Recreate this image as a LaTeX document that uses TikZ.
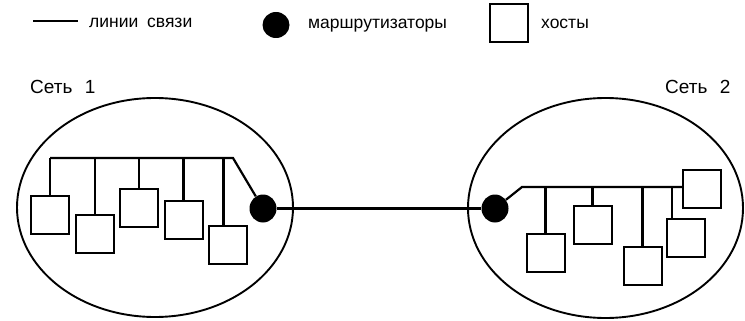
\documentclass[tikz,border=0pt]{standalone}
\usepackage{fontspec}
\setmainfont{Liberation Sans}
\usetikzlibrary{shapes.geometric}
\begin{document}
\begin{tikzpicture}[x=1pt,y=-1pt,
  wire/.style={line width=2.2pt},
  netline/.style={line width=1.9pt},
  host/.style={draw,line width=2pt,minimum width=38pt,minimum height=38pt,inner sep=0pt},
  router/.style={ellipse,fill=black,minimum width=27pt,minimum height=28pt,inner sep=0pt},
  lbl/.style={inner sep=0pt,anchor=base west,font=\fontsize{17.5}{21}\selectfont},
  title/.style={inner sep=0pt,anchor=base west,font=\fontsize{19}{22}\selectfont}]
\useasboundingbox (0,0) rectangle (745,321);

% legend
\coordinate (legA) at (33,21);
\coordinate (legB) at (78,21);
\draw[wire] (legA) -- (legB);
\node[lbl] (legLinks) at (89,28) {линии\hspace{0.5em}связи};
\node[router,minimum width=27pt,minimum height=26pt] (legRouter) at (276,25) {};
\node[lbl] (legRouters) at (308,29) {маршрутизаторы};
\node[host] (legHost) at (509,23.5) {};
\node[lbl] (legHosts) at (541,29) {хосты};

% network outlines and titles
\node[title] (titleA) at (30,93) {Сеть\hspace{0.65em}1};
\node[title] (titleB) at (665,93) {Сеть\hspace{0.65em}2};
\node[ellipse,draw,netline,minimum width=276pt,minimum height=219pt,inner sep=0pt] (netA) at (155,207.5) {};
\node[ellipse,draw,netline,minimum width=275pt,minimum height=220pt,inner sep=0pt] (netB) at (605.5,208) {};

% routers and the link between them
\node[router] (rA) at (263,208.5) {};
\node[router] (rB) at (495,208.5) {};
\draw[wire] (rA) -- (rB);

% hosts of network 1
\node[host] (a1) at (50,214.5) {};
\node[host] (a2) at (95,233.5) {};
\node[host] (a3) at (139,208) {};
\node[host] (a4) at (183.5,219.5) {};
\node[host] (a5) at (227.5,245) {};

% bus of network 1
\coordinate (busA0) at (50,158);
\coordinate (busA1) at (233,158);
\draw[wire,line join=miter] (busA0) -- (busA1) -- (rA);
\foreach \h in {a1,a2,a3,a4} \draw[wire] (\h.north) -- (\h.north |- busA0);
\draw[wire] ([xshift=-4pt]a5.north) -- ([xshift=-4pt]a5.north |- busA0);

% hosts of network 2
\node[host] (b1) at (545.5,253) {};
\node[host] (b2) at (592.5,224.5) {};
\node[host] (b3) at (642.5,266) {};
\node[host] (b4) at (686,237.5) {};
\node[host] (b5) at (702,188.5) {};

% bus of network 2
\coordinate (busB0) at (522,187);
\draw[wire] (rB) -- (busB0) -- (b5.west |- busB0);
\foreach \h in {b1,b2,b3} \draw[wire] (\h.north) -- (\h.north |- busB0);
\draw[wire] ([xshift=6pt]b4.north west) -- ([xshift=6pt]b4.north west |- busB0);
\end{tikzpicture}
\end{document}
